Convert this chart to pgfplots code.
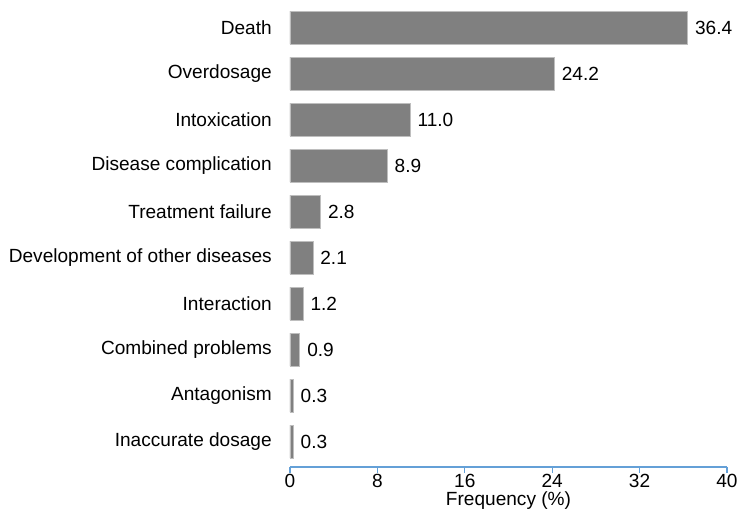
\documentclass[border=0pt]{standalone}
\usepackage{pgfplots}
\pgfplotsset{compat=1.18}
\usepackage{fontspec}
\setmainfont{Liberation Sans}
\definecolor{barfill}{RGB}{128,128,128}
\definecolor{barline}{RGB}{190,190,190}
\definecolor{axblue}{RGB}{100,160,215}
\begin{document}
\begin{tikzpicture}
\begin{axis}[
  scale only axis,
  width=327.75pt, height=348.45pt,
  xbar, bar width=24.75pt,
  xmin=0, xmax=40,
  ymin=-0.55, ymax=9.55,
  xtick={0,8,16,24,32,40},
  ytick={0,...,9},
  yticklabels={Inaccurate dosage,Antagonism,Combined problems,Interaction,Development of other diseases,Treatment failure,Disease complication,Intoxication,Overdosage,Death},
  axis x line*=bottom, axis y line*=left,
  x axis line style={draw=axblue, line width=0.8pt},
  y axis line style={draw=none},
  xtick style={draw=axblue, line width=0.8pt},
  ytick style={draw=none},
  tick align=outside,
  major tick length=4.5pt,
  /pgf/number format/assume math mode=true,
  tick label style={font=\fontsize{14.3}{16}\selectfont, text=black},
  y tick label style={inner sep=0pt, xshift=-9pt},
  x tick label style={inner sep=1pt},
  xlabel={Frequency (\%)},
  xlabel style={font=\fontsize{14.3}{16}\selectfont, inner sep=0pt, yshift=-1.5pt},
  nodes near coords,
  nodes near coords style={font=\fontsize{14.3}{16}\selectfont, text=black, xshift=2pt, /pgf/number format/fixed, /pgf/number format/fixed zerofill, /pgf/number format/precision=1},
  clip=false,
]
\addplot[fill=barfill, draw=barline, line width=0.5pt] coordinates {
  (0.3,0) (0.3,1) (0.9,2) (1.2,3) (2.1,4) (2.8,5) (8.9,6) (11.0,7) (24.2,8) (36.4,9)
};
\end{axis}
\pgfresetboundingbox
\path (-217.5pt,-37.5pt) rectangle (336.75pt,350.25pt);
\end{tikzpicture}
\end{document}
